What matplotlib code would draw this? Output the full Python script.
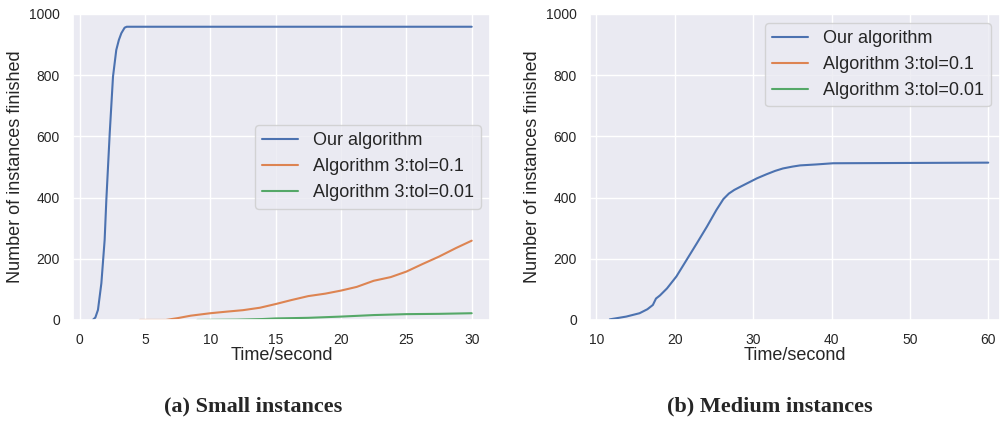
import matplotlib
matplotlib.use('Agg')
import matplotlib.pyplot as plt
import seaborn as sns

# (a) small instances
small_ours_t = [1.0, 1.2, 1.4, 1.66, 1.91, 2.04, 2.3, 2.55, 2.8, 3.0, 3.19, 3.44, 3.6, 30.0]
small_ours_n = [0, 8, 33, 120, 261, 392, 611, 795, 882, 915, 937, 955, 958, 958]
small_tol1_t = [4.6, 6.6, 7.5, 8.5, 10.0, 11.2, 12.5, 13.8, 15.0, 16.2, 17.5, 18.8, 20.0, 21.2,
                22.5, 23.8, 25.0, 26.2, 27.5, 28.8, 30.0]
small_tol1_n = [0, 0, 6, 14, 22, 27, 32, 40, 52, 65, 78, 86, 96, 108, 128, 140, 158, 182, 207, 235, 259]
small_tol01_t = [9.0, 12.0, 14.0, 15.0, 17.5, 20.0, 22.5, 25.0, 27.5, 30.0]
small_tol01_n = [0, 1, 3, 5, 7, 11, 16, 19, 20, 22]

# (b) medium instances
med_ours_t = [11.7, 13.8, 15.5, 16.5, 17.2, 17.6, 18.1, 19.0, 20.2, 21.5, 22.8, 24.1, 25.3, 26.2,
              26.9, 27.6, 28.5, 29.5, 30.5, 31.7, 32.8, 33.8, 35.0, 36.0, 38.0, 40.2, 60.0]
med_ours_n = [2, 11, 22, 35, 49, 70, 80, 103, 142, 196, 250, 305, 359, 395,
              413, 425, 437, 450, 463, 476, 487, 495, 501, 505, 508, 512, 514]

labels = ['Our algorithm', 'Algorithm 3:tol=0.1', 'Algorithm 3:tol=0.01']
captions = ['(a) Small instances', '(b) Medium instances']

sns.set_theme(style='darkgrid')
plt.rcParams['font.family'] = ['Liberation Sans', 'DejaVu Sans']

fig = plt.figure(figsize=(10.02, 4.21), dpi=100)
ax1 = fig.add_axes([0.073, 0.240, 0.416, 0.727])
ax2 = fig.add_axes([0.589, 0.240, 0.409, 0.727])

ax1.plot(small_ours_t, small_ours_n, label=labels[0])
ax1.plot(small_tol1_t, small_tol1_n, label=labels[1])
ax1.plot(small_tol01_t, small_tol01_n, label=labels[2])
ax1.set_xlim(-0.5, 31.4)
ax1.set_xticks([0, 5, 10, 15, 20, 25, 30])
ax1.legend(loc='center right', fontsize=13)

ax2.plot(med_ours_t, med_ours_n, label=labels[0])
ax2.plot([], [], label=labels[1])
ax2.plot([], [], label=labels[2])
ax2.set_xlim(9.2, 61.5)
ax2.set_xticks([10, 20, 30, 40, 50, 60])
ax2.legend(loc='upper right', fontsize=13)

for ax in [ax1, ax2]:
    ax.set_ylim(0, 1000)
    ax.set_yticks([0, 200, 400, 600, 800, 1000])
    ax.tick_params(labelsize=10)
    ax.set_xlabel('Time/second', fontsize=13, labelpad=0)
    ax.set_ylabel('Number of instances finished', fontsize=13)

fig.text(0.253, 0.035, captions[0], ha='center', va='center',
         fontsize=16, fontweight='bold', family='Liberation Serif')
fig.text(0.768, 0.035, captions[1], ha='center', va='center',
         fontsize=16, fontweight='bold', family='Liberation Serif')

fig.savefig('out.png', dpi=100)
